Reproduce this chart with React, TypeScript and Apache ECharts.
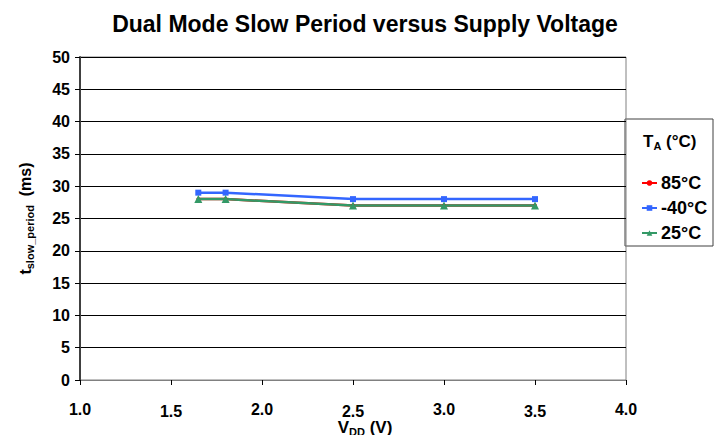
import React, { useEffect, useRef } from "react";
import * as echarts from "echarts";

const vdd = [1.65, 1.8, 2.5, 3.0, 3.5];
const t85 = [28, 28, 27, 27, 27];
const tm40 = [29, 29, 28, 28, 28];
const t25 = [28, 28, 27, 27, 27];
const seriesNames = ["85°C", "-40°C", "25°C"];

const FONT = "'Liberation Sans', Arial, sans-serif";

export default function App() {
  const ref = useRef<HTMLDivElement>(null);
  useEffect(() => {
    const chart = echarts.init(ref.current!, null, { renderer: "svg" });
    const mk = (arr: number[]) => arr.map((v, i) => [vdd[i], v]);
    chart.setOption({
      animation: false,
      backgroundColor: "#ffffff",
      title: {
        text: "Dual Mode Slow Period versus Supply Voltage",
        left: 360,
        textAlign: "center",
        top: 7,
        textStyle: { fontFamily: FONT, fontWeight: "bold", fontSize: 23, color: "#000" },
      },
      grid: {
        left: 80,
        right: 97,
        top: 57,
        bottom: 63,
        show: true,
        borderColor: "#808080",
        borderWidth: 1,
      },
      xAxis: {
        type: "value",
        min: 1.0,
        max: 4.0,
        interval: 0.5,
        splitLine: { show: false },
        axisLine: { show: true, onZero: false, lineStyle: { color: "#808080", width: 1 } },
        axisTick: { show: true, length: 5, lineStyle: { color: "#000" } },
        axisLabel: {
          margin: 21,
          formatter: (v: number) => {
            const s = v.toFixed(1);
            return Math.round(v * 2) % 2 === 1 ? "{b|" + s + "}" : "{a|" + s + "}";
          },
          rich: {
            a: { fontFamily: FONT, fontWeight: "bold", fontSize: 16, color: "#000" },
            b: { fontFamily: FONT, fontWeight: "bold", fontSize: 16, color: "#000", padding: [2, 0, 0, 0] },
          },
        },
      },
      yAxis: {
        type: "value",
        min: 0,
        max: 50,
        interval: 5,
        name: "{t|t}{sub|slow_period}{t|  (ms)}",
        nameLocation: "middle",
        nameGap: 45,
        nameTextStyle: {
          rich: {
            t: { fontFamily: FONT, fontWeight: "bold", fontSize: 16, color: "#000" },
            sub: { fontFamily: FONT, fontWeight: "bold", fontSize: 11, color: "#000", padding: [8, 0, 0, 0] },
          },
        },
        axisLine: { show: true, lineStyle: { color: "#404040", width: 2 } },
        axisTick: { show: true, length: 5, lineStyle: { color: "#000" } },
        splitLine: { show: true, lineStyle: { color: "#000", width: 1 } },
        axisLabel: {
          margin: 10,
          fontFamily: FONT,
          fontWeight: "bold",
          fontSize: 16,
          color: "#000",
        },
      },
      legend: {
        orient: "vertical",
        left: 636,
        top: 169,
        itemGap: 7,
        itemWidth: 15,
        itemHeight: 7,
        data: seriesNames,
        textStyle: { fontFamily: FONT, fontWeight: "bold", fontSize: 18, color: "#000", padding: [0, 0, 0, -1] },
      },
      graphic: [
        {
          type: "rect",
          shape: { x: 625, y: 119, width: 88, height: 127 },
          style: { fill: "#fff", stroke: "#404040", lineWidth: 1 },
          z: -1,
        },
        {
          type: "text",
          x: 643,
          y: 132,
          style: {
            text: "{t|T}{s|A}{t| (°C)}",
            rich: {
              t: { fontFamily: FONT, fontWeight: "bold", fontSize: 17, fill: "#000" },
              s: { fontFamily: FONT, fontWeight: "bold", fontSize: 11, fill: "#000", padding: [8, 0, 0, 0] },
            },
          },
        },
        {
          type: "text",
          x: 365,
          y: 418,
          style: {
            text: "{v|V}{s|DD}{v| (V)}",
            align: "center",
            rich: {
              v: { fontFamily: FONT, fontWeight: "bold", fontSize: 17, fill: "#000" },
              s: { fontFamily: FONT, fontWeight: "bold", fontSize: 11, fill: "#000", padding: [8, 0, 0, 0] },
            },
          },
        },
      ],
      series: [
        {
          name: seriesNames[0],
          type: "line",
          data: mk(t85),
          color: "#ff0000",
          symbol: "circle",
          symbolSize: 4,
          lineStyle: { width: 2.5, color: "#ff0000" },
          itemStyle: { color: "#ff0000" },
        },
        {
          name: seriesNames[1],
          type: "line",
          data: mk(tm40),
          color: "#3366ff",
          symbol: "rect",
          symbolSize: 6,
          lineStyle: { width: 2.5, color: "#3366ff" },
          itemStyle: { color: "#3366ff" },
        },
        {
          name: seriesNames[2],
          type: "line",
          data: mk(t25),
          color: "#339966",
          symbol: "triangle",
          symbolSize: 8,
          lineStyle: { width: 2.5, color: "#339966" },
          itemStyle: { color: "#339966" },
        },
      ],
    });
    return () => chart.dispose();
  }, []);
  return <div ref={ref} style={{ width: 723, height: 443, margin: -8 }} />;
}
